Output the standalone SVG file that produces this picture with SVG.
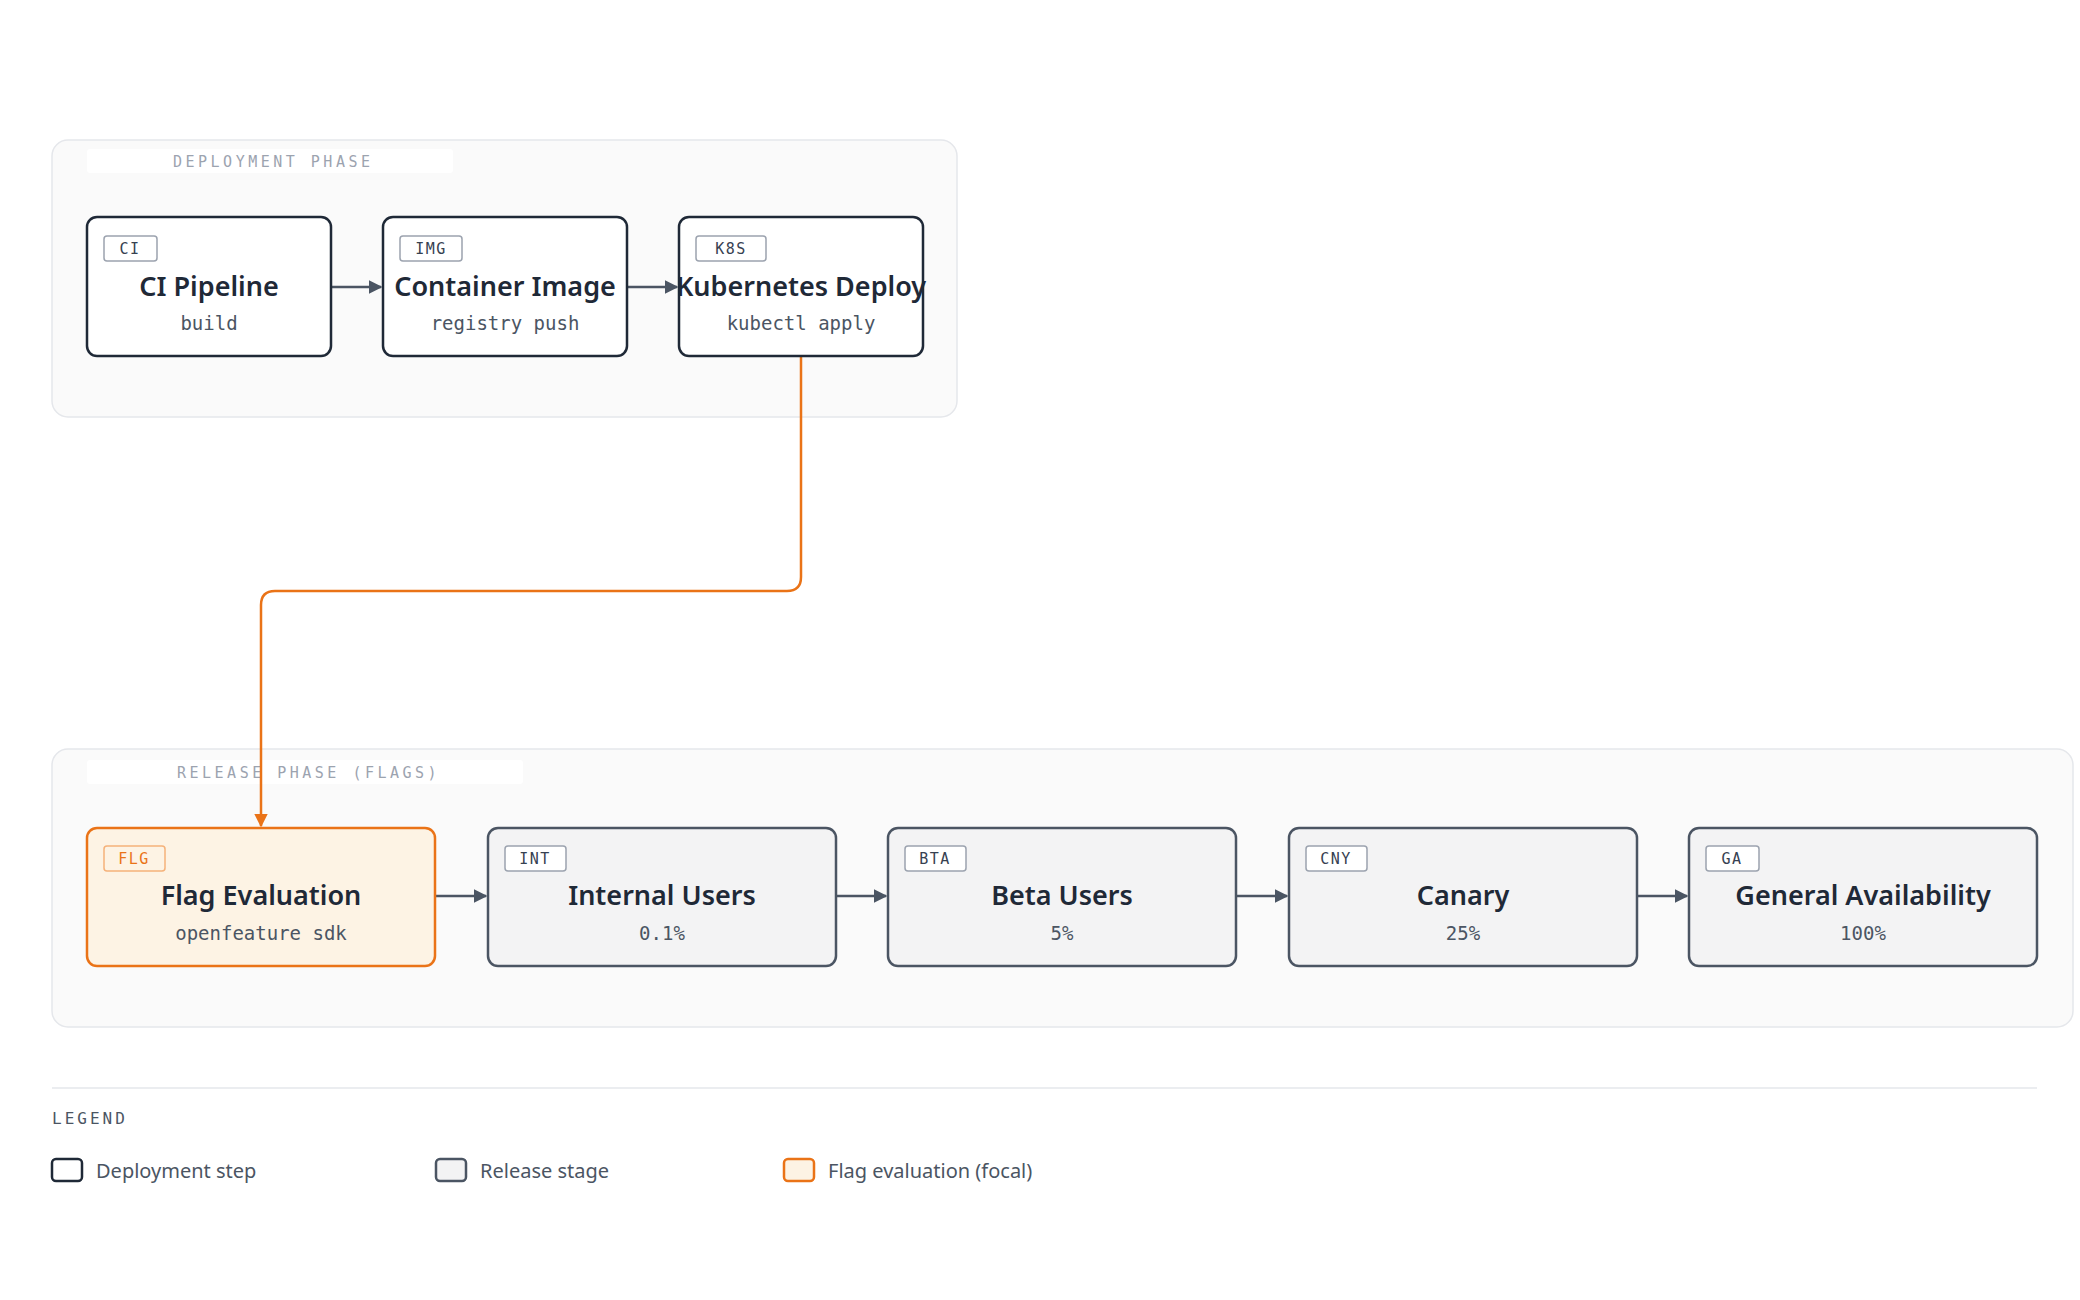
<svg xmlns="http://www.w3.org/2000/svg" width="2080" height="1300" viewBox="0 0 2080 1300">
<style>
.grp{fill:#fafafa;stroke:#e5e7eb;stroke-width:1.5}
.glbl{fill:#fff}
.gtxt{font-family:"DejaVu Sans Mono",monospace;font-size:15px;letter-spacing:3.5px;fill:#9ca3af}
.dep{fill:#fff;stroke:#1f2937;stroke-width:2.5}
.rel{fill:#f3f3f4;stroke:#4b5563;stroke-width:2.5}
.flg{fill:#fdf3e4;stroke:#ea7317;stroke-width:2.5}
.badge{fill:#fff;stroke:#9ca3af;stroke-width:1.5}
.badgeO{fill:#fdf3e4;stroke:#f5b27a;stroke-width:1.5}
.btxt{font-family:"DejaVu Sans Mono",monospace;font-size:15px;letter-spacing:1.5px;fill:#374151;text-anchor:middle}
.btxtO{font-family:"DejaVu Sans Mono",monospace;font-size:15px;letter-spacing:1.5px;fill:#ea7317;text-anchor:middle}
.title{font-family:"Noto Sans",sans-serif;font-size:27px;font-weight:600;fill:#1f2937;text-anchor:middle}
.sub{font-family:"DejaVu Sans Mono",monospace;font-size:19px;fill:#4b5563;text-anchor:middle}
.edge{fill:none;stroke:#4b5563;stroke-width:2.5}
.focal{fill:none;stroke:#ea7317;stroke-width:2.5}
.leg{font-family:"Noto Sans",sans-serif;font-size:20px;fill:#4b5563}
</style>
<defs>
<marker id="ah" viewBox="0 0 10 10" refX="9" refY="5" markerWidth="5.5" markerHeight="5.5" orient="auto" markerUnits="strokeWidth"><path d="M0,0L10,5L0,10z" fill="#4b5563"/></marker>
<marker id="ahO" viewBox="0 0 10 10" refX="9" refY="5" markerWidth="5.5" markerHeight="5.5" orient="auto" markerUnits="strokeWidth"><path d="M0,0L10,5L0,10z" fill="#ea7317"/></marker>
</defs>
<rect width="2080" height="1300" fill="#fff"/>
<g id="group-deploy">
<rect class="grp" x="52" y="140" width="905" height="277" rx="16"/>
<rect class="glbl" x="87" y="149" width="366" height="24" rx="3"/>
<text class="gtxt" x="173" y="167">DEPLOYMENT PHASE</text>
</g>
<g id="group-release">
<rect class="grp" x="52" y="749" width="2021" height="278" rx="16"/>
<rect class="glbl" x="87" y="760" width="436" height="24" rx="3"/>
<text class="gtxt" x="177" y="778">RELEASE PHASE (FLAGS)</text>
</g>
<g id="connectors">
<path class="edge" d="M331,287H381" marker-end="url(#ah)"/>
<path class="edge" d="M627,287H677" marker-end="url(#ah)"/>
<path class="edge" d="M435,896H486" marker-end="url(#ah)"/>
<path class="edge" d="M836,896H886" marker-end="url(#ah)"/>
<path class="edge" d="M1236,896H1287" marker-end="url(#ah)"/>
<path class="edge" d="M1637,896H1687" marker-end="url(#ah)"/>
<path class="focal" d="M801,356V577Q801,591 787,591H275Q261,591 261,605V826" marker-end="url(#ahO)"/>
</g>
<g id="node-ci">
<rect class="dep" x="87" y="217" width="244" height="139" rx="10"/>
<rect class="badge" x="104" y="236" width="53" height="25" rx="3"/>
<text class="btxt" x="130" y="254">CI</text>
<text class="title" x="209" y="296">CI Pipeline</text>
<text class="sub" x="209" y="330">build</text>
</g>
<g id="node-img">
<rect class="dep" x="383" y="217" width="244" height="139" rx="10"/>
<rect class="badge" x="400" y="236" width="62" height="25" rx="3"/>
<text class="btxt" x="431" y="254">IMG</text>
<text class="title" x="505" y="296">Container Image</text>
<text class="sub" x="505" y="330">registry push</text>
</g>
<g id="node-k8s">
<rect class="dep" x="679" y="217" width="244" height="139" rx="10"/>
<rect class="badge" x="696" y="236" width="70" height="25" rx="3"/>
<text class="btxt" x="731" y="254">K8S</text>
<text class="title" x="801" y="296">Kubernetes Deploy</text>
<text class="sub" x="801" y="330">kubectl apply</text>
</g>
<g id="node-flg">
<rect class="flg" x="87" y="828" width="348" height="138" rx="10"/>
<rect class="badgeO" x="104" y="846" width="61" height="25" rx="3"/>
<text class="btxtO" x="134" y="864">FLG</text>
<text class="title" x="261" y="905">Flag Evaluation</text>
<text class="sub" x="261" y="940">openfeature sdk</text>
</g>
<g id="node-int">
<rect class="rel" x="488" y="828" width="348" height="138" rx="10"/>
<rect class="badge" x="505" y="846" width="61" height="25" rx="3" fill="#f3f3f4"/>
<text class="btxt" x="535" y="864">INT</text>
<text class="title" x="662" y="905">Internal Users</text>
<text class="sub" x="662" y="940">0.1%</text>
</g>
<g id="node-bta">
<rect class="rel" x="888" y="828" width="348" height="138" rx="10"/>
<rect class="badge" x="905" y="846" width="61" height="25" rx="3"/>
<text class="btxt" x="935" y="864">BTA</text>
<text class="title" x="1062" y="905">Beta Users</text>
<text class="sub" x="1062" y="940">5%</text>
</g>
<g id="node-cny">
<rect class="rel" x="1289" y="828" width="348" height="138" rx="10"/>
<rect class="badge" x="1306" y="846" width="61" height="25" rx="3"/>
<text class="btxt" x="1336" y="864">CNY</text>
<text class="title" x="1463" y="905">Canary</text>
<text class="sub" x="1463" y="940">25%</text>
</g>
<g id="node-ga">
<rect class="rel" x="1689" y="828" width="348" height="138" rx="10"/>
<rect class="badge" x="1706" y="846" width="53" height="25" rx="3"/>
<text class="btxt" x="1732" y="864">GA</text>
<text class="title" x="1863" y="905">General Availability</text>
<text class="sub" x="1863" y="940">100%</text>
</g>
<g id="legend">
<line x1="52" y1="1088" x2="2037" y2="1088" stroke="#e5e7eb" stroke-width="1.5"/>
<text x="52" y="1124" font-family="DejaVu Sans Mono,monospace" font-size="16" letter-spacing="3" fill="#4b5563">LEGEND</text>
<rect class="dep" x="52" y="1159" width="30" height="22" rx="4"/>
<text class="leg" x="96" y="1178">Deployment step</text>
<rect class="rel" x="436" y="1159" width="30" height="22" rx="4"/>
<text class="leg" x="480" y="1178">Release stage</text>
<rect class="flg" x="784" y="1159" width="30" height="22" rx="4"/>
<text class="leg" x="828" y="1178">Flag evaluation (focal)</text>
</g>
</svg>
